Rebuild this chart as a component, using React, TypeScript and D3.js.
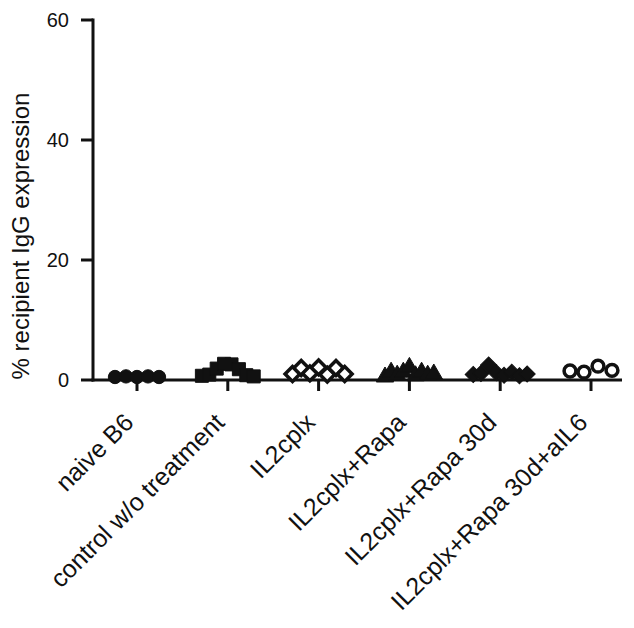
import { useEffect, useRef } from 'react';
import * as d3 from 'd3';

const groups = [
  'naive B6',
  'control w/o treatment',
  'IL2cplx',
  'IL2cplx+Rapa',
  'IL2cplx+Rapa 30d',
  'IL2cplx+Rapa 30d+aIL6',
];

const naiveB6 = [0.5, 0.6, 0.5, 0.6, 0.5];
const control = [0.7, 0.9, 1.9, 2.7, 2.6, 1.8, 0.8, 0.6];
const il2cplx = [1.0, 2.0, 1.1, 2.1, 0.9, 2.0, 1.0];
const il2Rapa = [0.5, 1.3, 0.8, 1.3, 2.1, 0.7, 1.3, 0.8, 1.0];
const il2Rapa30 = [0.9, 1.1, 2.5, 1.2, 0.8, 1.3, 0.7, 1.0];
const il2Rapa30aIL6 = [1.5, 1.3, 2.3, 1.6];

const yTicks = [0, 20, 40, 60];

const series = [naiveB6, control, il2cplx, il2Rapa, il2Rapa30, il2Rapa30aIL6];
const symbols = ['circle', 'square', 'diamondOpen', 'triangle', 'diamond', 'circleOpen'];
// horizontal spread between points inside a column
const spread = [11, 7.4, 8.7, 6.1, 7.7, 14];

function App() {
  const svgRef = useRef(null);

  useEffect(() => {
    document.body.style.margin = '0';
    const svg = d3.select(svgRef.current);
    svg.selectAll('*').remove();

    const left = 93;
    const right = 622;
    const top = 20;
    const bottom = 380;
    const font = 'Arial, "Liberation Sans", sans-serif';
    const ink = '#111';

    const x = d3.scalePoint().domain(groups).range([137, 591]);
    const y = d3.scaleLinear().domain([0, 60]).range([bottom, top]);

    // axes
    svg.append('line')
      .attr('x1', left).attr('x2', left)
      .attr('y1', top - 1.5).attr('y2', bottom + 1.5)
      .attr('stroke', ink).attr('stroke-width', 3);
    svg.append('line')
      .attr('x1', left - 1.5).attr('x2', right)
      .attr('y1', bottom).attr('y2', bottom)
      .attr('stroke', ink).attr('stroke-width', 3);

    const yt = svg.append('g');
    yTicks.forEach(t => {
      yt.append('line')
        .attr('x1', left - 12).attr('x2', left)
        .attr('y1', y(t)).attr('y2', y(t))
        .attr('stroke', ink).attr('stroke-width', 3);
      yt.append('text')
        .attr('x', left - 24).attr('y', y(t))
        .attr('dy', '0.36em')
        .attr('text-anchor', 'end')
        .attr('font-family', font).attr('font-size', 20)
        .attr('fill', ink)
        .text(t);
    });

    svg.append('text')
      .attr('transform', `translate(29, 236) rotate(-90)`)
      .attr('text-anchor', 'middle')
      .attr('font-family', font).attr('font-size', 24)
      .attr('fill', ink)
      .text('% recipient IgG expression');

    groups.forEach(g => {
      svg.append('line')
        .attr('x1', x(g)).attr('x2', x(g))
        .attr('y1', bottom).attr('y2', bottom + 11)
        .attr('stroke', ink).attr('stroke-width', 3);
      svg.append('text')
        .attr('transform', `translate(${x(g) - 2}, 424) rotate(-45)`)
        .attr('text-anchor', 'end')
        .attr('font-family', font).attr('font-size', 25)
        .attr('fill', ink)
        .text(g);
    });

    const sym = {
      circle: { p: d3.symbol(d3.symbolCircle, 140)(), r: 0 },
      circleOpen: { p: d3.symbol(d3.symbolCircle, 110)(), r: 0 },
      square: { p: d3.symbol(d3.symbolSquare, 170)(), r: 0 },
      triangle: { p: d3.symbol(d3.symbolTriangle, 130)(), r: 0 },
      diamond: { p: d3.symbol(d3.symbolSquare, 130)(), r: 45 },
      diamondOpen: { p: d3.symbol(d3.symbolSquare, 110)(), r: 45 },
    };

    series.forEach((vals, gi) => {
      const kind = symbols[gi];
      const open = kind.endsWith('Open');
      const step = spread[gi];
      const cx = x(groups[gi]);
      vals.forEach((v, i) => {
        const off = (i - (vals.length - 1) / 2) * step;
        svg.append('path')
          .attr('d', sym[kind].p)
          .attr('transform', `translate(${cx + off}, ${y(v)}) rotate(${sym[kind].r})`)
          .attr('fill', open ? '#fff' : ink)
          .attr('stroke', ink)
          .attr('stroke-width', open ? 3.5 : 1);
      });
    });
  }, []);

  return <svg ref={svgRef} width={634} height={628} style={{ display: 'block', background: '#fff' }} />;
}

export default App;
